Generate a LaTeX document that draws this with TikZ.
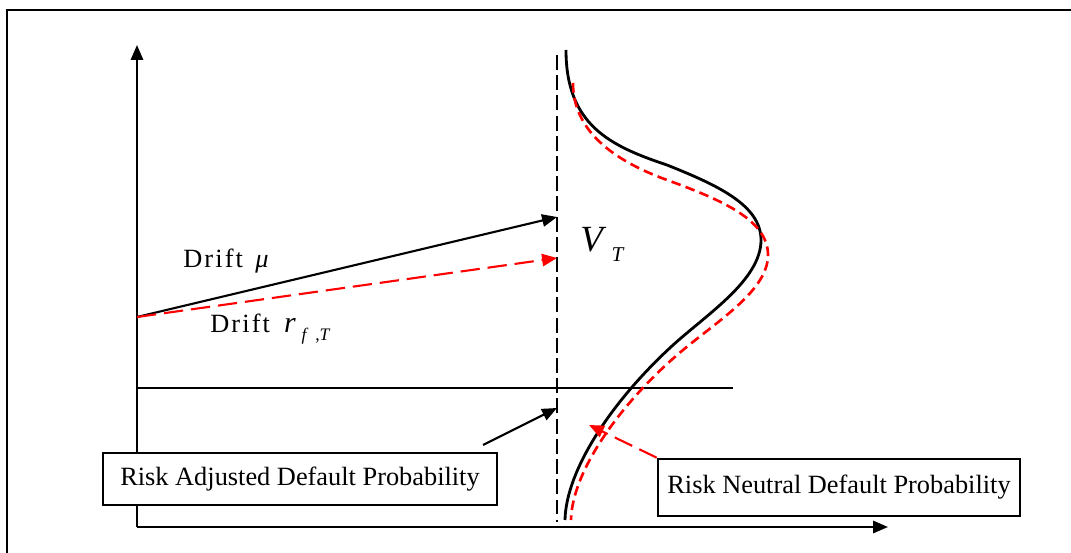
\documentclass[tikz,border=0pt]{standalone}
\usepackage{fontspec}
\setmainfont{Liberation Serif}
\newfontfamily\driftfont[LetterSpace=8]{Liberation Serif}
\usetikzlibrary{arrows.meta}

\begin{document}
\begin{tikzpicture}[x=0.02cm, y=-0.02cm,
        tip/.style={-{Triangle[length=8.5pt,width=7pt]}},
        probbox/.style={draw, line width=1.5pt, fill=white, font=\fontsize{15}{18}\selectfont},
        reddash/.style={red, line width=1.2pt, dash pattern=on 11pt off 4.5pt}]
        \useasboundingbox (0,0) rectangle (1071,553);
        % Frame
        \draw[line width=1.2pt] (1071,10) -- (7,10) -- (7,553);

        % Axes
        \coordinate (origin) at (137,527);
        \coordinate (ytop) at (137,45);
        \coordinate (xend) at (888,527);
        \draw[line width=1.2pt, tip] (origin) -- (ytop);
        \draw[line width=1.2pt, tip] (origin) -- (xend);

        % Default point and horizon
        \coordinate (dleft) at (137,388);
        \coordinate (dright) at (733,388);
        \draw[line width=1.2pt] (dleft) -- (dright);
        \coordinate (htop) at (557,55);
        \coordinate (hbot) at (557,522);
        \draw[line width=1.3pt, dash pattern=on 8.5pt off 3pt] (htop) -- (hbot);

        % Drifts
        \coordinate (v0) at (137,317);
        \coordinate (vmu) at (557,217);
        \coordinate (vrf) at (557,258);
        \draw[line width=1.2pt, tip] (v0) -- (vmu);
        \draw[reddash, tip] (v0) -- (vrf);
        \node[anchor=base west, inner sep=0pt, font=\driftfont\fontsize{15}{17}\selectfont] (mulbl) at (183,268) {Drift\hspace{7pt}{\fontsize{15}{17}\selectfont\textit{μ}}};
        \node[anchor=base west, inner sep=0pt, font=\driftfont\fontsize{15}{17}\selectfont] (rflbl) at (210,333) {Drift\hspace{8pt}{\fontsize{17}{19}\selectfont\textit{r}}\raisebox{-4pt}{\fontsize{10}{11}\selectfont\hspace{2pt}\textit{f}\hspace{3pt},\textit{T}}};
        \node[anchor=base west, inner sep=0pt] (vtlbl) at (580,252) {{\fontsize{21}{24}\selectfont\textit{V}}\raisebox{-5.5pt}{\fontsize{12}{13}\selectfont\hspace{3pt}\textit{T}}};

        % Densities
        \draw[line width=1.6pt] (566,50) .. controls (566,125) and (610,146) .. (667,165)
            .. controls (717,185) and (761,205) .. (761,240)
            .. controls (761,280) and (707,314) .. (672,346)
            .. controls (612,401) and (566,470) .. (565,520);
        \draw[red, line width=1.5pt, dash pattern=on 5.5pt off 3pt] (573,83) .. controls (573,130) and (612,160) .. (667,180)
            .. controls (722,200) and (768,220) .. (768,255)
            .. controls (768,290) and (719,320) .. (683,350)
            .. controls (623,400) and (572,470) .. (571,520);

        % Probabilities
        \node[probbox, minimum width=7.88cm, minimum height=1.04cm] (adjbox) at (300,479) {Risk Adjusted Default Probability};
        \node[probbox, minimum width=7.24cm, minimum height=1.14cm] (neubox) at (839,487.5) {Risk Neutral Default Probability};
        \coordinate (adjfrom) at (483,445);
        \coordinate (adjtip) at (557,408);
        \coordinate (neutip) at (589,425);
        \draw[line width=1.2pt, tip] (adjfrom) -- (adjtip);
        \draw[reddash, tip] (neubox.north west) -- (neutip);
    \end{tikzpicture}
\end{document}
